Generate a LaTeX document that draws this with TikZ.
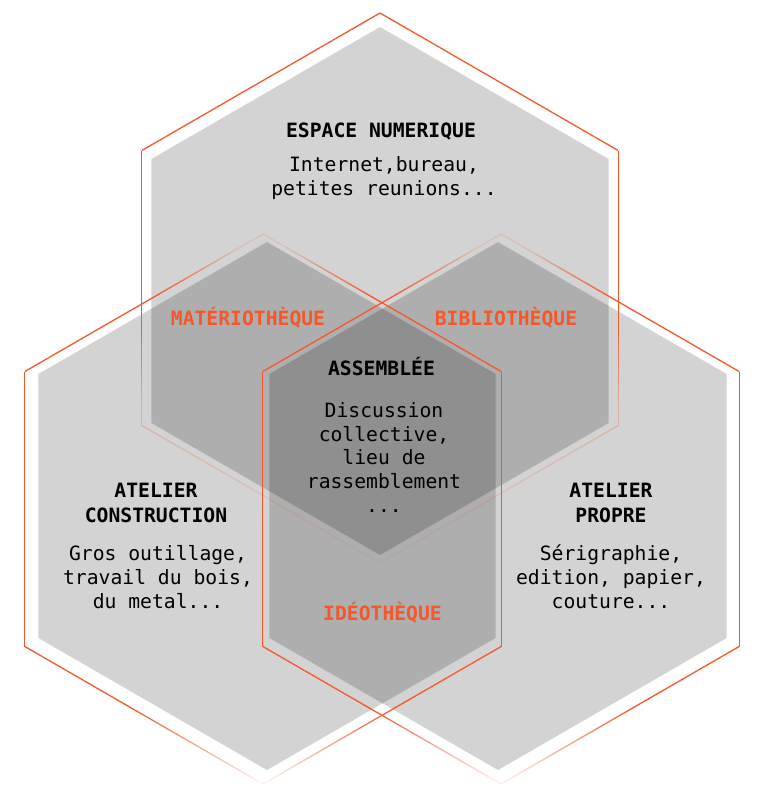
\documentclass[tikz,border=0pt]{standalone}
\usepackage{fontspec}
\setmonofont{DejaVu Sans Mono}

\definecolor{hexorange}{RGB}{244,88,42}

\newcommand{\hexagonpath}[1]{(30:#1) -- (90:#1) -- (150:#1) -- (210:#1) -- (270:#1) -- (330:#1) -- cycle}

% orange outline of a hexagon (centre #1,#2), drawn in short pieces whose
% opacity is given by formula #3 of the piece's height \ym
\newcommand{\fadehex}[3]{%
  \foreach \a in {30,90,150,210,270,330}{%
    \pgfmathsetmacro{\xs}{#1+275*cos(\a)}%
    \pgfmathsetmacro{\ys}{#2+275*sin(\a)}%
    \pgfmathsetmacro{\xe}{#1+275*cos(\a+60)}%
    \pgfmathsetmacro{\ye}{#2+275*sin(\a+60)}%
    \foreach \k in {0,...,39}{%
      \pgfmathsetmacro{\xa}{\xs+(\xe-\xs)*\k/40}%
      \pgfmathsetmacro{\ya}{\ys+(\ye-\ys)*\k/40}%
      \pgfmathsetmacro{\xb}{\xs+(\xe-\xs)*(\k+1)/40}%
      \pgfmathsetmacro{\yb}{\ys+(\ye-\ys)*(\k+1)/40}%
      \pgfmathsetmacro{\ym}{(\ya+\yb)/2}%
      \pgfmathsetmacro{\op}{#3}%
      \draw[orangeline, draw opacity=\op] (\xa,\ya) -- (\xb,\yb);
    }%
  }%
}

\tikzset{
  grayhex/.style={fill=black, fill opacity=0.173},
  orangeline/.style={draw=hexorange, line width=1.3pt},
  headtxt/.style={font=\ttfamily\bfseries\fontsize{19.7}{25}\selectfont, align=center, anchor=base, inner sep=0pt, text=black},
  bodytxt/.style={font=\ttfamily\fontsize{19.7}{23.6}\selectfont, align=center, anchor=base, inner sep=0pt, text=black},
  intertxt/.style={font=\ttfamily\bfseries\fontsize{19.7}{24}\selectfont, anchor=base, inner sep=0pt, text=hexorange},
}

\begin{document}
\begin{tikzpicture}[x=1pt, y=-1pt]
\useasboundingbox (0,0) rectangle (767,797);
\fill[white] (0,0) rectangle (767,797);

% gray hexagons
\fill[grayhex, shift={(380,291)}] \hexagonpath{264};
\fill[grayhex, shift={(267,506)}] \hexagonpath{264};
\fill[grayhex, shift={(498,506)}] \hexagonpath{264};

% orange outlines (fading)
\fadehex{380}{288}{ifthenelse((563-\ym)/5.5>=28, min(1,0.28+0.045*((563-\ym)/5.5-28)), 0.06+0.0079*(563-\ym)/5.5)}
\fadehex{263}{509}{min(min(1,0.06+0.067*(784-\ym)/5.5), max(0.14, 1-0.1*max((784-\ym)/5.5-89,0)))}
\fadehex{501}{509}{min(min(1,0.06+0.067*(784-\ym)/5.5), max(0.14, 1-0.1*max((784-\ym)/5.5-89,0)))}

% texts (anchored at the baseline of the last line)
\node[headtxt] (numh) at (381,137) {ESPACE NUMERIQUE};
\node[bodytxt] (numb) at (384,195) {Internet,bureau,\\petites reunions...};

\node[headtxt] (consh) at (156,522) {ATELIER\\CONSTRUCTION};
\node[bodytxt] (consb) at (158,608) {Gros outillage,\\travail du bois,\\du metal...};

\node[headtxt] (proph) at (611,522) {ATELIER\\PROPRE};
\node[bodytxt] (propb) at (611,608) {Sérigraphie,\\edition, papier,\\couture...};

\node[headtxt] (assh) at (381.5,375) {ASSEMBLÉE};
\node[bodytxt] (assb) at (384,512) {Discussion\\collective,\\lieu de\\rassemblement\\...};

\node[intertxt] (mat) at (248,325) {MATÉRIOTHÈQUE};
\node[intertxt] (bib) at (506,325) {BIBLIOTHÈQUE};
\node[intertxt] (ide) at (382.5,620) {IDÉOTHÈQUE};
\end{tikzpicture}
\end{document}
